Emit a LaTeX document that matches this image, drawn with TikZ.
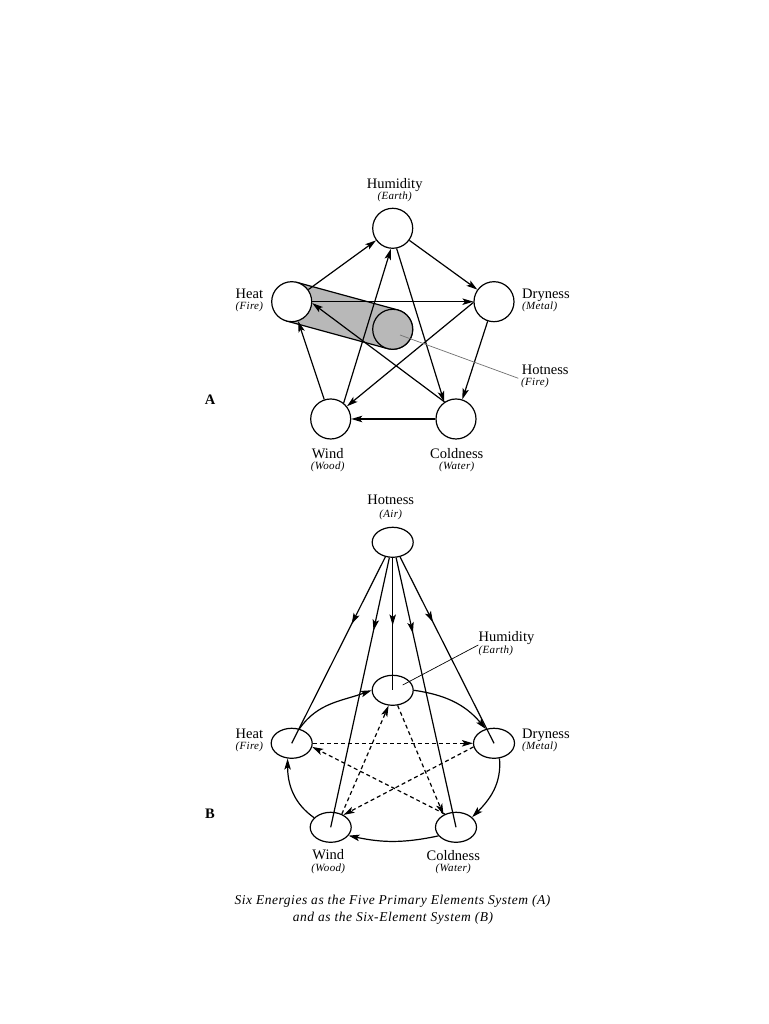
\documentclass[tikz,border=0pt]{standalone}
\usepackage{fontspec}
\setmainfont{Liberation Serif}
\newfontfamily\subfont[LetterSpace=3]{Liberation Serif}
\newfontfamily\capfont[LetterSpace=4]{Liberation Serif}
\usetikzlibrary{arrows.meta,calc,decorations.markings,shapes.geometric}
\definecolor{bandgray}{HTML}{B8B8B8}
\definecolor{leadgray}{HTML}{707070}
\begin{document}
\begin{tikzpicture}[x=1pt,y=1pt,
  circ/.style={circle,draw,fill=white,line width=1.2pt,minimum size=40pt,inner sep=0pt},
  ell/.style={ellipse,draw,fill=white,line width=1.2pt,minimum width=41pt,minimum height=30pt,inner sep=0pt},
  conn/.style={line width=1.2pt,-{Stealth[length=11pt,width=6.5pt,inset=2.5pt]}},
  dconn/.style={conn,dash pattern=on 4pt off 3pt},
  plain/.style={line width=1.2pt},
  midarr/.style={postaction={decorate},decoration={markings,mark=at position #1 with {\arrow{Stealth[length=11pt,width=6.5pt,inset=2.5pt]}}}},
  lab/.style={font=\fontsize{14.5}{16}\selectfont,inner sep=0pt,anchor=base},
  sublab/.style={font=\subfont\itshape\fontsize{11}{12}\selectfont,inner sep=0pt,anchor=base},
  letter/.style={font=\bfseries\fontsize{14.5}{16}\selectfont,inner sep=0pt,anchor=base},
  leader/.style={line width=0.7pt}
  ]
\fill[white] (0,0) rectangle (768,1024);
\useasboundingbox (0,0) rectangle (768,1024);

% ---------------- Diagram A ----------------
\coordinate (hc) at (291.7,722.3);
\coordinate (pc) at (392.7,694.7);
\filldraw[fill=bandgray,line width=1.2pt]
  ($(hc)+(74.72:20)$) -- ($(pc)+(74.72:20)$)
  arc[start angle=74.72,end angle=-105.28,radius=20]
  -- ($(hc)+(-105.28:20)$) -- cycle;
\node[circ,fill=bandgray] (hotA) at (pc) {};
\node[circ] (heatA) at (hc) {};
\node[circ] (humA) at (392.7,795.7) {};
\node[circ] (dryA) at (494,722.3) {};
\node[circ] (windA) at (330.7,605) {};
\node[circ] (coldA) at (456,605) {};

\draw[conn] (heatA) -- (humA);
\draw[conn] (humA) -- (dryA);
\draw[conn] (dryA) -- (coldA);
\draw[conn] (coldA) -- (windA);
\draw[conn] (windA) -- (heatA);
\draw[conn] (heatA) -- (dryA);
\draw[conn] (humA.-79) -- (coldA.125);
\draw[conn] (windA.51) -- (humA.-95);
\draw[conn] (dryA.182) -- (windA.38);
\draw[conn] (coldA.124) -- (heatA.-4);

\coordinate (lhA0) at (400,689);
\coordinate (lhA1) at (518.3,645.7);
\draw[leader,leadgray] (lhA0) -- (lhA1);

\node[lab] (tHumA) at (394.7,835.7) {Humidity};
\node[sublab] (sHumA) at (394.7,824.3) {(Earth)};
\node[lab,anchor=base east] (tHeatA) at (263.3,725.7) {Heat};
\node[sublab,anchor=base east] (sHeatA) at (263.3,714.3) {(Fire)};
\node[lab,anchor=base west] (tDryA) at (522,725.7) {Dryness};
\node[sublab,anchor=base west] (sDryA) at (522,714.3) {(Metal)};
\node[lab,anchor=base west] (tHotA) at (521.7,649) {Hotness};
\node[sublab,anchor=base west] (sHotA) at (521,638.3) {(Fire)};
\node[lab] (tWindA) at (327.7,565.7) {Wind};
\node[sublab] (sWindA) at (327.7,554.3) {(Wood)};
\node[lab] (tColdA) at (456.7,565.7) {Coldness};
\node[sublab] (sColdA) at (456.7,554.3) {(Water)};
\node[letter] (lblA) at (210,619) {A};

% ---------------- Diagram B ----------------
\node[ell] (hotB) at (392.7,481.7) {};
\node[ell] (humB) at (392.7,333.7) {};
\node[ell] (heatB) at (291.7,280.7) {};
\node[ell] (dryB) at (494,280.7) {};
\node[ell] (windB) at (330.7,196.7) {};
\node[ell] (coldB) at (456,196.7) {};

\draw[plain,midarr=0.36] (hotB) -- (heatB.center);
\draw[plain,midarr=0.27] (hotB) -- (windB.center);
\draw[plain,midarr=0.51] (hotB) -- (humB.center);
\draw[plain,midarr=0.28] (hotB) -- (coldB.center);
\draw[plain,midarr=0.35] (hotB) -- (dryB.center);

\draw[conn] (heatB.62) to[out=55,in=200] (humB.180);
\draw[conn] (humB.0) to[out=-8,in=130] (dryB.120);
\draw[conn] (dryB.-70) to[out=-85,in=45] (coldB.32);
\draw[conn] (coldB.206) to[out=192,in=-12] (windB.-25);
\draw[conn] (windB.150) to[out=145,in=-90] (heatB.-105);

\draw[dconn] (heatB.0) -- (dryB.180);
\draw[dconn] (coldB.130) -- (heatB.-10);
\draw[dconn] (dryB.190) -- (windB.44);
\draw[dconn] (windB.50) -- (humB.-105);
\draw[dconn] (humB.-72) -- (coldB.135);

\coordinate (lhB0) at (402.7,339);
\coordinate (lhB1) at (478.3,379);
\draw[leader] (lhB0) -- (lhB1);

\node[lab] (tHotB) at (390.7,519) {Hotness};
\node[sublab] (sHotB) at (390.7,506) {(Air)};
\node[lab,anchor=base west] (tHumB) at (478.5,382.5) {Humidity};
\node[sublab,anchor=base west] (sHumB) at (478.5,370.5) {(Earth)};
\node[lab,anchor=base east] (tHeatB) at (263.3,285.7) {Heat};
\node[sublab,anchor=base east] (sHeatB) at (263.3,274.3) {(Fire)};
\node[lab,anchor=base west] (tDryB) at (522,285.7) {Dryness};
\node[sublab,anchor=base west] (sDryB) at (522,274.3) {(Metal)};
\node[lab] (tWindB) at (328.3,164) {Wind};
\node[sublab] (sWindB) at (328.3,152.3) {(Wood)};
\node[lab] (tColdB) at (453.3,163.5) {Coldness};
\node[sublab] (sColdB) at (453.3,152) {(Water)};
\node[letter] (lblB) at (210,205.7) {B};

\node[font=\capfont\itshape\fontsize{13.5}{15}\selectfont,inner sep=0pt,anchor=base] (cap1) at (392.5,119.3) {Six Energies as the Five Primary Elements System (A)};
\node[font=\capfont\itshape\fontsize{13.5}{15}\selectfont,inner sep=0pt,anchor=base] (cap2) at (393,102.7) {and as the Six-Element System (B)};
\end{tikzpicture}
\end{document}
